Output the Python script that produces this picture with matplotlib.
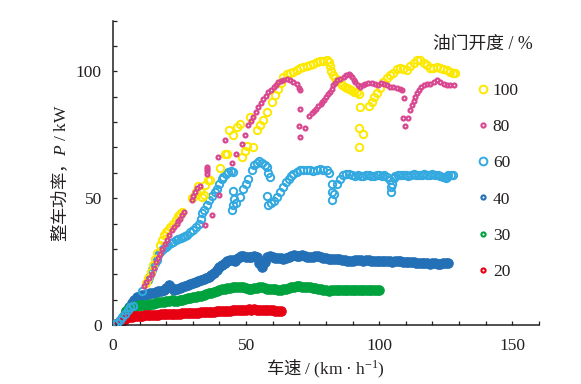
import matplotlib
matplotlib.use("Agg")
import matplotlib.pyplot as plt
from matplotlib.lines import Line2D
from matplotlib.ticker import MultipleLocator

plt.rcParams['font.family'] = ['Liberation Serif', 'Noto Sans CJK SC', 'DejaVu Sans']
plt.rcParams['mathtext.fontset'] = 'custom'
plt.rcParams['mathtext.rm'] = 'Liberation Serif'
plt.rcParams['mathtext.it'] = 'Liberation Serif:italic'

# ---------------- data (speed km/h, power kW) ----------------
v20 = [0, 1, 2, 3, 4, 5, 6, 7, 8, 9, 10, 11, 12, 13, 14, 15, 16, 17, 18, 19, 20,
       21, 22, 23, 24, 25, 26, 27, 28, 29, 30, 31, 32, 33, 34, 35, 36, 37, 38, 39, 40,
       41, 42, 43, 44, 45, 46, 47, 48, 49, 50, 51, 52, 53, 54, 55, 56, 57, 58, 59, 60,
       61, 62, 63]
p20 = [0.0, 0.2, 0.6, 1.2, 2.0, 2.6, 3.0, 3.2, 3.4, 3.5, 3.6, 3.7, 3.8, 3.8, 3.9, 4.0, 4.0, 4.1, 4.2, 4.2, 4.3,
       4.3, 4.4, 4.4, 4.5, 4.5, 4.6, 4.6, 4.7, 4.7, 4.8, 4.8, 4.9, 5.0, 5.0, 5.1, 5.2, 5.2, 5.3, 5.4, 5.5,
       5.5, 5.6, 5.7, 5.7, 5.8, 5.9, 5.9, 6.0, 6.0, 6.1, 6.2, 6.1, 6.2, 6.1, 6.0, 6.1, 6.0, 5.9, 5.8, 5.8,
       5.7, 5.6, 5.5]

v30 = [0, 1, 2, 3, 4, 5, 6, 7, 8, 9, 10, 11, 12, 13, 14, 15, 16, 17, 18, 19, 20,
       21, 22, 23, 24, 25, 26, 27, 28, 29, 30, 31, 32, 33, 34, 35, 36, 37, 38, 39, 40,
       41, 42, 43, 44, 45, 46, 47, 48, 49, 50, 51, 52, 53, 54, 55, 56, 57, 58, 59, 60,
       61, 62, 63, 64, 65, 66, 67, 68, 69, 70, 71, 72, 73, 74, 75, 76, 77, 78, 79, 80,
       81, 82, 83, 84, 85, 86, 87, 88, 89, 90, 91, 92, 93, 94, 95, 96, 97, 98, 99, 100]
p30 = [0.0, 0.3, 0.8, 1.8, 3.5, 5.5, 6.8, 7.2, 7.4, 7.6, 7.7, 7.8, 7.9, 8.0, 8.2, 8.4, 8.6, 8.9, 9.1, 9.0, 9.3,
       9.6, 9.9, 9.6, 9.5, 9.8, 10.0, 10.3, 10.5, 10.7, 10.9, 11.1, 11.3, 11.6, 11.9, 12.2, 12.5, 12.8, 13.1, 13.5, 13.8,
       14.1, 14.3, 14.5, 14.7, 14.9, 15.1, 15.0, 14.9, 14.8, 14.6, 14.3, 14.2, 14.4, 14.7, 15.0, 14.8, 14.4, 14.3, 14.2, 14.3,
       14.1, 14.0, 14.0, 14.1, 14.3, 14.5, 14.8, 15.0, 15.2, 15.3, 15.1, 15.0, 14.9, 14.9, 14.7, 14.5, 14.3, 14.1, 13.9, 13.7,
       13.6, 13.7, 13.8, 13.9, 13.8, 13.9, 13.9, 14.0, 13.9, 13.8, 13.9, 14.0, 13.9, 13.9, 14.0, 13.9, 13.9, 14.0, 13.9, 13.9]

v40 = [0, 1, 2, 3, 4, 5, 6, 7, 8, 9, 10, 11, 12, 13, 14, 15, 16, 17, 18, 19, 20,
       21, 22, 23, 24, 25, 26, 27, 28, 29, 30, 31, 32, 33, 34, 35, 36, 37, 38, 39, 40,
       41, 42, 43, 44, 45, 46, 47, 48, 49, 50, 51, 52, 53, 54, 55, 56, 57, 58, 59, 60,
       61, 62, 63, 64, 65, 66, 67, 68, 69, 70, 71, 72, 73, 74, 75, 76, 77, 78, 79, 80,
       81, 82, 83, 84, 85, 86, 87, 88, 89, 90, 91, 92, 93, 94, 95, 96, 97, 98, 99, 100,
       101, 102, 103, 104, 105, 106, 107, 108, 109, 110, 111, 112, 113, 114, 115, 116, 117, 118, 119, 120,
       121, 122, 123, 124, 125, 126]
p40 = [0.0, 0.3, 0.8, 1.8, 3.5, 5.5, 7.0, 8.5, 10.0, 11.0, 11.4, 11.7, 12.0, 12.3, 12.6, 12.8, 13.0, 13.3, 13.6, 13.9, 14.5,
       15.8, 14.5, 14.0, 14.3, 14.7, 15.1, 15.5, 15.8, 16.1, 16.4, 16.8, 17.2, 17.6, 18.0, 18.5, 19.0, 19.6, 20.5, 21.6, 22.7,
       23.7, 24.6, 25.3, 25.8, 25.6, 25.2, 26.5, 27.4, 27.3, 27.0, 26.8, 26.9, 27.1, 26.7, 24.5, 22.8, 24.8, 27.0, 27.4, 27.0,
       26.6, 26.4, 26.3, 26.2, 26.4, 26.8, 27.2, 27.5, 27.3, 27.2, 27.5, 27.4, 27.0, 26.8, 26.9, 27.1, 27.2, 27.0, 26.6, 26.3,
       26.1, 26.0, 25.9, 25.9, 26.0, 25.7, 25.5, 25.3, 25.2, 25.4, 25.6, 25.7, 25.5, 25.4, 25.6, 25.5, 25.3, 25.2, 25.4, 25.3,
       25.1, 25.2, 25.3, 25.1, 25.0, 25.2, 25.3, 25.1, 24.9, 25.0, 24.8, 24.7, 24.9, 24.6, 24.4, 24.5, 24.6, 24.3, 24.1, 24.3,
       24.5, 24.2, 24.0, 24.3, 24.6, 24.4]

v60 = [0.5, 1.5, 2.5, 3.5, 4.5, 5.5, 6.5, 7.5, 10.8, 13.0, 13.5, 14.5, 15.2, 15.8, 16.4, 17.0, 17.7, 18.3, 19.0, 19.8,
       20.8, 21.7, 22.7, 23.6, 24.5, 25.4, 26.2, 27.0, 27.9, 29.0, 30.2, 31.3, 32.2, 33.0, 33.6, 34.2, 35.2, 36.2, 37.2, 38.2,
       39.0, 40.0, 40.8, 41.5, 42.3, 43.3, 44.2, 45.0, 45.0, 45.0, 44.8, 45.3, 46.3, 47.7, 48.8, 49.8, 50.9, 52.1, 53.0, 54.0,
       55.0, 56.0, 57.0, 57.8, 58.3, 59.0, 57.8, 58.4, 59.2, 60.3, 61.5, 62.7, 64.0, 65.0, 66.0, 67.0, 67.8, 69.0, 70.3, 71.5,
       72.8, 74.0, 75.2, 76.5, 77.8, 79.0, 80.3, 81.0, 82.2, 82.4, 82.2, 83.0, 84.0, 85.2, 86.5, 87.6, 88.7, 89.8, 91.0, 92.0,
       93.0, 94.0, 95.0, 96.0, 97.0, 98.0, 99.0, 100.0, 101.0, 102.0, 103.0, 104.0, 104.3, 104.6, 105.0, 105.5, 106.0, 107.0, 108.0, 109.0,
       110.0, 111.0, 112.0, 113.0, 114.0, 115.0, 116.0, 117.0, 118.0, 119.0, 120.0, 121.0, 122.0, 123.0, 124.0, 125.0, 125.5, 126.0, 127.0, 127.8]
p60 = [0.3, 0.8, 1.8, 3.0, 4.5, 6.0, 7.0, 7.6, 13.5, 17.7, 19.0, 21.6, 23.0, 24.3, 25.8, 27.5, 28.9, 29.6, 30.2, 30.9,
       31.5, 32.2, 32.8, 33.4, 33.8, 34.2, 34.6, 35.0, 35.6, 36.5, 37.5, 38.6, 40.0, 42.0, 44.0, 45.5, 47.2, 49.2, 51.0, 52.6,
       53.8, 55.8, 57.5, 58.4, 59.5, 60.4, 60.8, 60.4, 53.0, 47.5, 45.3, 49.5, 48.0, 50.5, 53.5, 55.5, 57.7, 61.3, 63.0, 64.0,
       64.5, 64.0, 63.2, 62.3, 60.0, 58.4, 51.0, 47.2, 48.0, 49.0, 50.5, 52.5, 54.5, 56.2, 57.7, 58.8, 59.7, 60.3, 61.0, 61.2,
       61.0, 61.3, 60.9, 61.1, 61.4, 61.2, 61.0, 60.0, 55.8, 52.5, 49.2, 51.5, 55.8, 57.5, 59.0, 59.4, 59.7, 59.0, 58.8, 59.0,
       58.6, 58.8, 59.2, 59.0, 58.7, 58.9, 59.2, 59.0, 58.8, 59.0, 58.5, 57.0, 54.5, 52.5, 55.5, 58.0, 58.9, 59.2, 59.0, 59.3,
       59.0, 58.8, 59.2, 59.5, 59.1, 59.0, 59.3, 59.6, 59.2, 59.0, 59.4, 59.2, 59.0, 58.6, 58.2, 57.8, 58.4, 59.0, 59.2, 59.0]

v80 = [11.5, 12.5, 13.5, 14.5, 15.3, 16.1, 16.9, 17.7, 18.5, 19.4, 20.2, 21.1, 22.0, 22.9, 23.9, 24.5, 25.2, 25.9, 26.7, 29.6,
       30.2, 30.8, 31.6, 32.7, 34.6, 35.5, 35.5, 35.5, 35.5, 37.1, 39.6, 40.0, 42.1, 44.6, 46.3, 48.4, 49.6, 50.9, 51.8, 52.7,
       53.6, 54.6, 55.5, 56.5, 57.4, 58.4, 59.3, 60.3, 61.2, 62.1, 63.0, 64.0, 65.2, 66.5, 67.8, 69.0, 70.0, 70.3, 70.1, 70.0,
       72.2, 70.3, 73.8, 74.8, 75.6, 76.4, 77.2, 78.0, 78.5, 79.3, 80.1, 80.9, 81.6, 82.2, 82.8, 83.5, 84.3, 85.4, 86.6, 87.6,
       88.5, 89.2, 89.7, 90.4, 91.0, 92.0, 92.9, 93.8, 94.7, 95.9, 97.2, 98.4, 99.7, 100.8, 102.0, 103.0, 104.1, 105.3, 106.6, 107.9,
       108.7, 109.5, 109.0, 111.0, 109.6, 111.7, 112.3, 112.9, 113.5, 114.2, 114.8, 115.6, 116.7, 117.9, 119.2, 120.5, 121.7, 123.0, 124.2, 125.4,
       126.7, 128.0]
p80 = [15.5, 17.0, 18.7, 20.3, 22.5, 24.8, 26.5, 28.2, 30.0, 32.0, 33.5, 35.5, 37.4, 38.8, 40.0, 41.0, 42.0, 43.3, 44.6, 49.2,
       51.0, 52.5, 54.0, 55.0, 39.4, 59.7, 60.6, 61.5, 62.4, 43.3, 66.3, 51.2, 72.8, 63.7, 67.3, 71.5, 74.8, 78.7, 80.5, 82.0,
       84.0, 86.0, 87.6, 89.2, 90.5, 91.8, 92.8, 93.8, 94.8, 95.8, 96.3, 96.7, 96.9, 96.7, 96.0, 95.1, 93.5, 92.5, 85.3, 78.3,
       77.8, 74.1, 82.4, 83.5, 84.4, 85.3, 86.2, 87.2, 87.9, 88.9, 89.9, 90.9, 91.8, 93.2, 94.5, 95.5, 96.5, 97.2, 97.8, 98.4,
       99.0, 98.5, 97.8, 96.8, 95.8, 94.8, 93.8, 94.5, 95.1, 95.3, 95.4, 95.0, 94.5, 95.3, 95.0, 94.5, 94.0, 93.8, 93.5, 93.0,
       92.8, 89.6, 81.8, 81.8, 78.5, 84.6, 86.6, 88.4, 89.9, 91.5, 92.5, 93.8, 94.5, 95.0, 95.1, 95.8, 96.5, 95.8, 95.1, 94.8,
       94.5, 94.5]

v100 = [12.5, 13.3, 14.2, 15.0, 15.8, 16.6, 17.5, 18.3, 19.2, 20.0, 20.7, 21.5, 22.5, 23.5, 24.5, 25.2, 26.0, 29.5, 30.2, 31.0,
        32.0, 32.7, 33.3, 34.0, 34.7, 35.7, 36.5, 40.2, 42.1, 42.7, 43.5, 45.2, 46.5, 47.7, 48.4, 49.5, 50.5, 51.5, 52.7, 54.0,
        55.3, 56.5, 57.8, 59.7, 60.9, 62.0, 63.0, 64.0, 65.3, 66.5, 67.8, 69.0, 70.3, 71.5, 72.8, 74.0, 75.3, 76.6, 77.8, 79.0,
        80.3, 81.0, 81.6, 82.0, 82.8, 83.5, 84.5, 85.3, 86.0, 87.0, 87.8, 88.6, 89.5, 90.5, 91.6, 92.5, 92.9, 92.5, 94.1, 92.5,
        96.0, 97.2, 98.2, 99.1, 100.3, 101.6, 102.8, 104.1, 105.3, 106.6, 107.9, 109.1, 110.4, 111.7, 113.0, 114.2, 115.4, 116.7, 117.9, 119.2,
        120.4, 121.7, 122.9, 124.1, 125.4, 126.7, 127.8, 128.6]
p100 = [16.4, 18.5, 21.0, 23.5, 26.0, 28.5, 31.5, 33.5, 35.5, 36.5, 37.5, 38.5, 40.0, 41.5, 42.8, 43.6, 44.5, 50.0, 50.5, 52.5,
        55.0, 53.0, 50.5, 51.2, 55.2, 57.0, 57.0, 61.8, 67.6, 67.6, 77.0, 74.8, 78.0, 79.4, 66.3, 68.5, 70.5, 82.0, 70.2, 76.8,
        79.0, 80.7, 84.0, 88.0, 90.6, 93.0, 95.5, 97.8, 98.8, 99.3, 99.7, 100.5, 101.2, 101.7, 102.2, 102.7, 103.0, 103.7, 104.0, 104.3,
        104.5, 103.8, 102.0, 100.0, 98.4, 97.5, 96.5, 95.8, 94.8, 94.0, 93.6, 93.0, 92.5, 92.0, 91.7, 91.2, 86.0, 77.7, 75.5, 70.2,
        86.5, 88.0, 90.0, 91.5, 93.5, 96.0, 97.5, 98.4, 99.5, 101.0, 101.2, 100.8, 100.6, 102.0, 103.5, 104.5, 104.6, 103.2, 102.4, 101.5,
        101.5, 101.7, 101.5, 100.8, 100.4, 99.8, 99.5, 99.5]

labels = ['100', '80', '60', '40', '30', '20']
colors = {'100': '#fde800', '80': '#d8478f', '60': '#33a9e0',
          '40': '#2470b6', '30': '#00a23e', '20': '#e60012'}

# ---------------- figure ----------------
fig = plt.figure(figsize=(5.81, 3.84), dpi=100)
ax = fig.add_axes([0.1945, 0.1536, 0.733, 0.7925])

# dense bands
ax.plot(v40, p40, ls='none', marker='o', ms=6.8, mfc=colors['40'], mec=colors['40'], mew=0.8, zorder=2)
ax.plot(v30, p30, ls='none', marker='o', ms=6.8, mfc=colors['30'], mec=colors['30'], mew=0.8, zorder=2)
ax.plot(v20, p20, ls='none', marker='o', ms=6.8, mfc=colors['20'], mec=colors['20'], mew=0.8, zorder=2.1)
# hollow
ax.plot(v60, p60, ls='none', marker='o', ms=5.3, mfc='none', mec=colors['60'], mew=1.4, zorder=3)
ax.plot(v100, p100, ls='none', marker='o', ms=5.3, mfc='none', mec=colors['100'], mew=1.4, zorder=3)
ax.plot(v80, p80, ls='none', marker='o', ms=2.8, mfc='none', mec=colors['80'], mew=1.6, zorder=4)

ax.set_xlim(0, 160)
ax.set_ylim(0, 120)
ax.xaxis.set_major_locator(MultipleLocator(50))
ax.xaxis.set_minor_locator(MultipleLocator(10))
ax.yaxis.set_major_locator(MultipleLocator(50))
ax.yaxis.set_minor_locator(MultipleLocator(10))
for s in ['top', 'right']:
    ax.spines[s].set_visible(False)
for s in ['left', 'bottom']:
    ax.spines[s].set_linewidth(1.1)
    ax.spines[s].set_color('#231f20')
ax.tick_params(which='both', direction='in', length=3.2, width=0.9, color='#231f20',
               labelsize=12.5, labelcolor='#231f20')
ax.tick_params(axis='y', which='both', pad=8)
ax.tick_params(axis='x', which='both', pad=9)

ax.set_xlabel('车速 $/\\ (\\mathrm{km\\ \u00b7\\ h^{-1}})$', family=['Noto Sans CJK SC'],
              fontsize=12.5, color='#231f20', labelpad=3)
ax.set_ylabel('整车功率，$P\\ /\\ \\mathrm{kW}$', family=['Noto Sans CJK SC'],
              fontsize=12.5, color='#231f20', labelpad=4)

# legend
handles = []
leg_ms = {'100': (5.6, 1.4), '80': (3.0, 1.5), '60': (5.6, 1.4),
          '40': (3.0, 1.5), '30': (3.0, 1.5), '20': (3.0, 1.5)}
for lab in labels:
    ms, mew = leg_ms[lab]
    handles.append(Line2D([], [], ls='none', marker='o', ms=ms, mfc='none',
                          mec=colors[lab], mew=mew))
leg = ax.legend(handles, labels, loc='upper left', bbox_to_anchor=(478 / 581, 1 - 83 / 384),
                bbox_transform=fig.transFigure, frameon=False, fontsize=12.5,
                handlelength=0.6, handletextpad=0.25, labelspacing=1.15, borderpad=0,
                borderaxespad=0)
for t in leg.get_texts():
    t.set_color('#231f20')
fig.text(433 / 581, 1 - 45 / 384, '油门开度 / %', fontsize=12.8, color='#231f20',
         ha='left', va='center')

fig.savefig('out.png', dpi=100)
